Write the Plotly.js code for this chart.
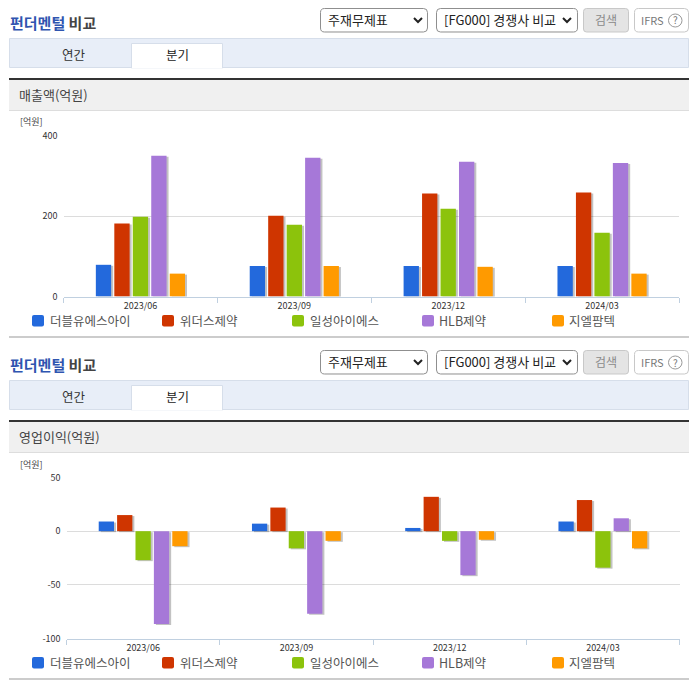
<!DOCTYPE html>
<html><head><meta charset="utf-8">
<script src="https://cdn.plot.ly/plotly-3.0.1.min.js"></script>
<style>
html,body{margin:0;padding:0;background:#fff;overflow:hidden}
#g{width:696px;height:684px}
.bars .point path{filter:drop-shadow(2.5px 1.5px 0.6px rgba(0,0,0,.24))}
</style></head><body><div id="g"></div>
<script>
const categories = ['2023/06','2023/09','2023/12','2024/03'];
const seriesNames = ['더블유에스아이','위더스제약','일성아이에스','HLB제약','지엘팜텍'];
const seriesColors = ['#2369dc','#cf3500','#8cc30c','#a678d8','#ff9a00'];
const revA = [79,76,76,76];
const revB = [182,201,257,259];
const revC = [199,179,219,159];
const revD = [351,346,336,333];
const revE = [57,76,74,57];
const opA = [9,7,3,9];
const opB = [15,22,32,29];
const opC = [-27,-16,-9,-34];
const opD = [-86.5,-77,-41,12];
const opE = [-14,-9,-8,-16];
const revTicks = [0,200,400];
const opTicks = [-100,-50,0,50];
const opTickLabels = ['-100','-50','0','50'];
const sectionTitles = ['매출액(억원)','영업이익(억원)'];

const W=696,H=684, FONT='"Noto Sans CJK KR","Noto Sans",sans-serif';
const px=x=>x/W, py=y=>1-y/H;
const shapes=[], annotations=[];
function rect(x0,y0,x1,y1,fill,line){shapes.push({type:'rect',xref:'paper',yref:'paper',layer:'below',x0:px(x0),x1:px(x1),y0:py(y0),y1:py(y1),fillcolor:fill,line:{color:line||fill,width:line?1:0}});}
function rrect(x0,y0,x1,y1,r,fill,line){
  const X=a=>px(a).toFixed(5),Y=a=>py(a).toFixed(5);
  const p=`M${X(x0+r)},${Y(y0)}L${X(x1-r)},${Y(y0)}Q${X(x1)},${Y(y0)} ${X(x1)},${Y(y0+r)}L${X(x1)},${Y(y1-r)}Q${X(x1)},${Y(y1)} ${X(x1-r)},${Y(y1)}L${X(x0+r)},${Y(y1)}Q${X(x0)},${Y(y1)} ${X(x0)},${Y(y1-r)}L${X(x0)},${Y(y0+r)}Q${X(x0)},${Y(y0)} ${X(x0+r)},${Y(y0)}Z`;
  shapes.push({type:'path',xref:'paper',yref:'paper',layer:'below',path:p,fillcolor:fill,line:{color:line||fill,width:line?1:0}});
}
function chevron(x,y){
  const X=a=>px(a).toFixed(5),Y=a=>py(a).toFixed(5);
  shapes.push({type:'path',xref:'paper',yref:'paper',path:`M${X(x-4)},${Y(y-2)}L${X(x)},${Y(y+2)}L${X(x+4)},${Y(y-2)}`,line:{color:'#222',width:2}});
}
function text(t,x,y,size,color,anchor){annotations.push({text:t,xref:'paper',yref:'paper',x:px(anchor?x:x-1),y:py(y-0.5),xanchor:anchor||'left',yanchor:'middle',showarrow:false,borderpad:0,font:{family:FONT,size:size,color:color}});}

function chrome(o,idx){
  text('<b><span style="color:#2f55b0">펀더멘털</span> <span style="color:#444">비교</span></b>',10,o+23,15,'#444');
  rrect(320.5,o+8.5,427.5,o+32,4,'#fff','#8f8f8f');
  text('주재무제표',327.5,o+20,13,'#222');
  chevron(418,o+20);
  rrect(436.5,o+8.5,577.5,o+32,4,'#fff','#8f8f8f');
  text('[FG000] 경쟁사 비교',444,o+20,13,'#222');
  chevron(567,o+20);
  rrect(583.5,o+8.5,628.5,o+32,3,'#e4e4e4','#c8c8c8');
  text('검색',606,o+20,12,'#8a8a8a','center');
  rrect(634.5,o+8.5,688.5,o+32,4,'#fff','#c8c8c8');
  text('IFRS',641,o+20,11,'#777');
  shapes.push({type:'circle',xref:'paper',yref:'paper',layer:'below',x0:px(668.5),x1:px(682),y0:py(o+27),y1:py(o+14),fillcolor:'#fff',line:{color:'#999',width:1}});
  text('?',675.2,o+20.5,10,'#777','center');
  rect(9.5,o+38.5,688.5,o+67.5,'#e8eef8','#d6deea');
  rect(131.5,o+43.5,222.5,o+68,'#fff','#d6deea');
  rect(132,o+66,222,o+68.5,'#fff');
  text('연간',74,o+55,12.5,'#333','center');
  text('분기',177,o+55,12.5,'#222','center');
  rect(9,o+80,689,o+110,'#f0f0f0');
  rect(9,o+110,689,o+111,'#dddddd');
  rect(9,o+78,689,o+80,'#333333');
  text(sectionTitles[idx],19,o+95,13,'#444');
  text('[억원]',20,o+122.5,9,'#444');
  const sq=[32,162,292,422,552], tx=[50,180,310,439,569];
  seriesNames.forEach((n,i)=>{
    rrect(sq[i],o+315,sq[i]+12,o+326.5,2,seriesColors[i]);
    text(n,tx[i],o+320.5,12.5,'#555');
  });
  rect(9,o+336,689,o+338,'#cccccc');
}
chrome(0,0); chrome(342,1);

const revData=[revA,revB,revC,revD,revE], opData=[opA,opB,opC,opD,opE];
const traces=[];
revData.forEach((v,i)=>traces.push({type:'bar',x:categories,y:v,name:seriesNames[i],marker:{color:seriesColors[i],line:{width:0}},xaxis:'x',yaxis:'y',hoverinfo:'none'}));
opData.forEach((v,i)=>traces.push({type:'bar',x:categories,y:v,name:seriesNames[i],marker:{color:seriesColors[i],line:{width:0}},xaxis:'x2',yaxis:'y2',hoverinfo:'none'}));

const xBase={type:'category',categoryorder:'array',categoryarray:categories,range:[-0.5,3.5],tickson:'boundaries',ticks:'outside',ticklen:5,tickcolor:'#c0d0e0',tickwidth:1,showline:true,linecolor:'#c0d0e0',linewidth:1,showgrid:false,zeroline:false,tickfont:{family:FONT,size:9,color:'#333'},fixedrange:true,automargin:false,ticklabelstandoff:1};
const yBase={showgrid:true,gridcolor:'#dcdcdc',gridwidth:1,zeroline:false,showline:false,ticks:'',tickfont:{family:FONT,size:9,color:'#333'},fixedrange:true,automargin:false,ticklabelstandoff:5};
const layout={
  width:W,height:H,margin:{l:0,r:0,t:0,b:0},paper_bgcolor:'#fff',plot_bgcolor:'rgba(0,0,0,0)',
  showlegend:false,barmode:'group',bargap:0.4,bargroupgap:0.17,
  shapes,annotations,
  xaxis:Object.assign({},xBase,{domain:[px(63.5),px(679)],anchor:'y'}),
  yaxis:Object.assign({},yBase,{domain:[py(296.5),py(136)],range:[0,400],tickvals:revTicks,anchor:'x'}),
  xaxis2:Object.assign({},xBase,{domain:[px(66.5),px(679.5)],anchor:'y2'}),
  yaxis2:Object.assign({},yBase,{domain:[py(638.5),py(477.5)],range:[-100,50],tickvals:opTicks,ticktext:opTickLabels,anchor:'x2'})
};
Plotly.newPlot('g',traces,layout,{displayModeBar:false,staticPlot:true});
</script></body></html>
